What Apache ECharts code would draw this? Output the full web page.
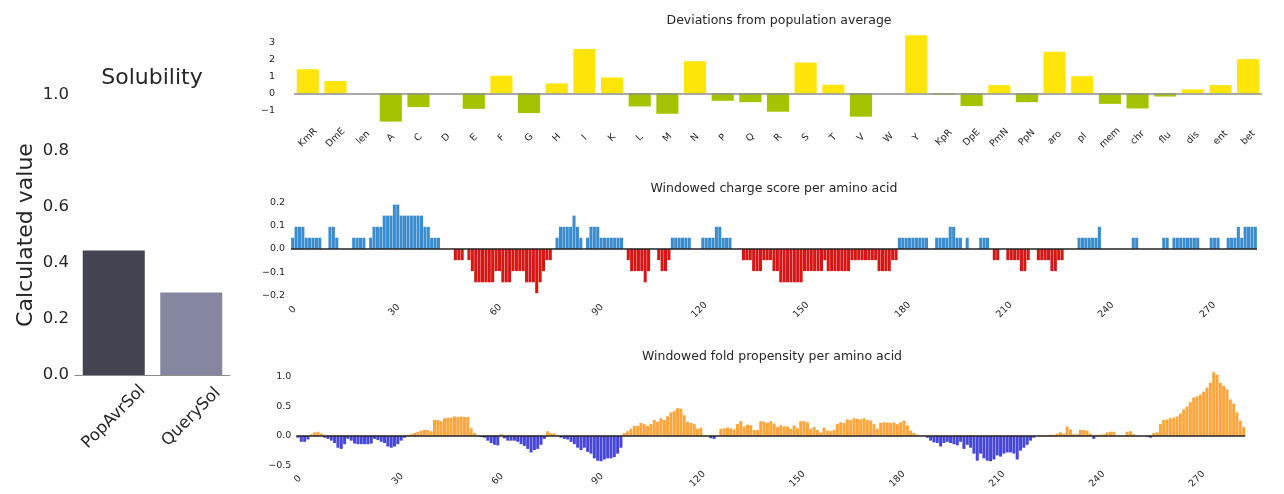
<!DOCTYPE html>
<html>
<head>
<meta charset="utf-8">
<script src="https://cdn.jsdelivr.net/npm/echarts@6/dist/echarts.min.js"></script>
<style>
  html, body { margin: 0; padding: 0; background: #fff; }
  #root { width: 1284px; height: 494px; }
</style>
</head>
<body>
<div id="root"></div>
<script>
// solubility panel
const solCategories = ['PopAvrSol', 'QuerySol'];
const solValues = [0.445, 0.295];
const solColors = ['#434352', '#8587a0'];

// deviations from population average
const propCategories = ['KmR', 'DmE', 'len', 'A', 'C', 'D', 'E', 'F', 'G', 'H', 'I', 'K', 'L', 'M', 'N', 'P', 'Q',
  'R', 'S', 'T', 'V', 'W', 'Y', 'KpR', 'DpE', 'PmN', 'PpN', 'aro', 'pI', 'mem', 'chr', 'flu', 'dis', 'ent', 'bet'];
const deviations = [1.41, 0.72, 0, -1.66, -0.81, 0, -0.91, 1.03, -1.16, 0.58,
  2.6, 0.93, -0.77, -1.2, 1.88, -0.44, -0.52, -1.08, 1.8, 0.5,
  -1.37, 0, 3.4, -0.08, -0.75, 0.48, -0.52, 2.44, 1.0, -0.62,
  -0.89, -0.19, 0.23, 0.48, 2.0];

// windowed charge score, one value per residue
const charge = [
  0.048, 0.095, 0.095, 0.095, 0.048, 0.048, 0.048, 0.048, 0.048, 0,
  0, 0.095, 0.095, 0.048, 0, 0, 0, 0, 0.048, 0.048,
  0.048, 0.048, 0, 0.048, 0.095, 0.095, 0.095, 0.143, 0.143, 0.143,
  0.19, 0.19, 0.143, 0.143, 0.143, 0.143, 0.143, 0.143, 0.143, 0.095,
  0.095, 0.048, 0.048, 0.048, 0, 0, 0, 0, -0.048, -0.048,
  -0.048, 0, -0.048, -0.095, -0.143, -0.143, -0.143, -0.143, -0.143, -0.143,
  -0.095, -0.095, -0.143, -0.143, -0.143, -0.095, -0.095, -0.095, -0.095, -0.143,
  -0.143, -0.143, -0.19, -0.143, -0.095, -0.048, -0.048, 0, 0.048, 0.095,
  0.095, 0.095, 0.095, 0.143, 0.095, 0.048, 0, 0.048, 0.095, 0.095,
  0.095, 0.048, 0.048, 0.048, 0.048, 0.048, 0.048, 0.048, 0, -0.048,
  -0.095, -0.095, -0.095, -0.095, -0.143, -0.095, 0, 0, -0.048, -0.095,
  -0.095, -0.048, 0.048, 0.048, 0.048, 0.048, 0.048, 0.048, 0, 0,
  0, 0.048, 0.048, 0.048, 0.048, 0.095, 0.095, 0.048, 0.048, 0.048,
  0, 0, 0, -0.048, -0.048, -0.048, -0.095, -0.095, -0.095, -0.048,
  -0.048, -0.048, -0.095, -0.095, -0.143, -0.143, -0.143, -0.143, -0.143, -0.143,
  -0.143, -0.095, -0.095, -0.095, -0.095, -0.095, -0.095, -0.048, -0.095, -0.095,
  -0.095, -0.095, -0.095, -0.095, -0.095, -0.048, -0.048, -0.048, -0.048, -0.048,
  -0.048, -0.048, -0.048, -0.095, -0.095, -0.095, -0.095, -0.048, -0.048, 0.048,
  0.048, 0.048, 0.048, 0.048, 0.048, 0.048, 0.048, 0.048, 0, 0,
  0.048, 0.048, 0.048, 0.048, 0.095, 0.095, 0.048, 0.048, 0, 0.048,
  0, 0, 0, 0.048, 0.048, 0.048, 0, -0.048, -0.048, 0,
  0, -0.048, -0.048, -0.048, -0.048, -0.095, -0.095, -0.048, 0, 0,
  -0.048, -0.048, -0.048, -0.048, -0.095, -0.095, -0.048, -0.048, 0, 0,
  0, 0, 0.048, 0.048, 0.048, 0.048, 0.048, 0.048, 0.095, 0,
  0, 0, 0, 0, 0, 0, 0, 0, 0.048, 0.048,
  0, 0, 0, 0, 0, 0, 0, 0.048, 0.048, 0,
  0.048, 0.048, 0.048, 0.048, 0.048, 0.048, 0.048, 0.048, 0, 0,
  0, 0.048, 0.048, 0.048, 0, 0, 0.048, 0.048, 0.048, 0.095,
  0.048, 0.095, 0.095, 0.095, 0.095
];

// windowed fold propensity, one value per residue
const fold = [
  -0.03, -0.1, -0.1, -0.06, 0.03, 0.06, 0.07, 0.04, -0.03, -0.05,
  -0.08, -0.12, -0.2, -0.22, -0.14, -0.05, -0.08, -0.13, -0.14, -0.14,
  -0.14, -0.14, -0.13, -0.05, -0.07, -0.1, -0.12, -0.18, -0.2, -0.18,
  -0.14, -0.08, -0.03, 0.02, 0.03, 0.05, 0.07, 0.09, 0.1, 0.1,
  0.08, 0.27, 0.27, 0.25, 0.3, 0.31, 0.31, 0.33, 0.32, 0.33,
  0.32, 0.32, 0.13, 0.05, 0.01, -0.02, -0.03, -0.08, -0.12, -0.15,
  -0.16, 0.03, -0.04, -0.08, -0.08, -0.08, -0.1, -0.14, -0.17, -0.22,
  -0.28, -0.24, -0.22, -0.15, -0.05, 0.08, 0.05, 0.04, 0.01, -0.03,
  -0.05, -0.06, -0.1, -0.14, -0.2, -0.24, -0.2, -0.27, -0.3, -0.38,
  -0.42, -0.43, -0.4, -0.38, -0.38, -0.36, -0.3, -0.2, 0.05, 0.08,
  0.12, 0.17, 0.17, 0.22, 0.2, 0.17, 0.2, 0.27, 0.24, 0.3,
  0.27, 0.33, 0.4, 0.42, 0.47, 0.46, 0.35, 0.24, 0.22, 0.2,
  0.12, 0.14, 0.01, 0, -0.04, -0.05, 0, 0.12, 0.13, 0.14,
  0.13, 0.11, 0.2, 0.25, 0.16, 0.19, 0.18, 0.1, 0.1, 0.25,
  0.24, 0.22, 0.25, 0.21, 0.15, 0.18, 0.16, 0.16, 0.12, 0.18,
  0.13, 0.25, 0.25, 0.23, 0.12, 0.15, 0.1, 0.06, 0.14, 0.09,
  0.08, 0.1, 0.2, 0.23, 0.22, 0.28, 0.27, 0.3, 0.29, 0.28,
  0.3, 0.27, 0.26, 0.2, 0.12, 0.22, 0.23, 0.23, 0.22, 0.23,
  0.2, 0.23, 0.26, 0.18, 0.09, 0.05, 0.02, 0.01, 0, -0.03,
  -0.08, -0.11, -0.12, -0.18, -0.12, -0.1, -0.12, -0.14, -0.16, -0.1,
  -0.22, -0.15, -0.2, -0.3, -0.42, -0.3, -0.38, -0.42, -0.43, -0.4,
  -0.33, -0.35, -0.3, -0.28, -0.28, -0.3, -0.4, -0.25, -0.2, -0.15,
  -0.08, -0.03, 0, 0.01, 0.01, 0.01, 0.02, 0.02, 0.04, 0.06,
  0.04, 0.16, 0.11, 0.03, 0.03, 0.1, 0.1, 0.09, 0.04, -0.05,
  0.02, 0.02, 0.03, 0.06, 0.07, 0.07, 0.01, 0.01, 0, 0.07,
  0.08, 0.03, 0.01, 0, 0, -0.01, -0.03, 0.05, 0.06, 0.2,
  0.27, 0.28, 0.3, 0.31, 0.33, 0.38, 0.45, 0.5, 0.57, 0.65,
  0.67, 0.7, 0.75, 0.82, 0.9, 1.08, 1.04, 0.9, 0.85, 0.79,
  0.62, 0.55, 0.4, 0.26, 0.15
];

const residues = charge.map((v, i) => String(i));
const chargeTicks = [-0.2, -0.1, 0, 0.1, 0.2];
const foldTicks = [-0.5, 0, 0.5, 1.0];
const devTicks = [-1, 0, 1, 2, 3];

const FONT = 'DejaVu Sans';
const TXT = '#262626';

const fmt = d => v => (v < 0 ? '\u2212' : '') + Math.abs(v).toFixed(d);

const zeroLine = (color, width) => ({
  silent: true,
  symbol: 'none',
  label: { show: false },
  lineStyle: { color, width, type: 'solid' },
  data: [{ yAxis: 0 }]
});

const smallTitle = (text, x, y) => ({
  text, left: x, top: y, textAlign: 'center', padding: 0,
  textStyle: { fontFamily: FONT, fontSize: 12.5, fontWeight: 'normal', color: TXT }
});

const resAxis = (gridIndex, margin) => ({
  type: 'category', gridIndex, data: residues,
  axisLine: { show: false }, axisTick: { show: false },
  axisLabel: {
    interval: 29, rotate: 45, align: 'center', verticalAlign: 'middle', margin,
    fontFamily: FONT, fontSize: 9.5, color: TXT
  }
});

const valAxis = (gridIndex, min, max, ticks, digits, margin) => ({
  type: 'value', gridIndex, min, max,
  axisLine: { show: false }, axisTick: { show: false }, splitLine: { show: false },
  axisLabel: {
    customValues: ticks, formatter: fmt(digits), margin,
    fontFamily: FONT, fontSize: 9.5, color: TXT
  }
});

const chart = echarts.init(document.getElementById('root'), null, { renderer: 'canvas' });

chart.setOption({
  animation: false,
  backgroundColor: '#fff',
  title: [
    {
      text: 'Solubility', left: 152, top: 67, textAlign: 'center', padding: 0,
      textStyle: { fontFamily: FONT, fontSize: 22, fontWeight: 'normal', color: TXT }
    },
    smallTitle('Deviations from population average', 779, 14),
    smallTitle('Windowed charge score per amino acid', 774, 182),
    smallTitle('Windowed fold propensity per amino acid', 772, 350)
  ],
  grid: [
    { left: 75, top: 95, width: 155, height: 280 },
    { left: 294, top: 31, width: 968, height: 94.7 },
    { left: 291, top: 200, width: 966, height: 97.9 },
    { left: 296.3, top: 367.2, width: 949, height: 98.8 }
  ],
  xAxis: [
    {
      type: 'category', gridIndex: 0, data: solCategories,
      axisLine: { lineStyle: { color: '#8c8c8c', width: 1 } },
      axisTick: { show: false },
      axisLabel: {
        rotate: 45, align: 'center', verticalAlign: 'middle', margin: 42,
        fontFamily: FONT, fontSize: 16.5, color: TXT
      }
    },
    {
      type: 'category', gridIndex: 1, data: propCategories,
      axisLine: { show: false }, axisTick: { show: false },
      axisLabel: {
        interval: 0, rotate: 45, align: 'center', verticalAlign: 'middle', margin: 12,
        fontFamily: FONT, fontSize: 9.5, color: TXT
      }
    },
    resAxis(2, 12),
    resAxis(3, 13)
  ],
  yAxis: [
    {
      type: 'value', gridIndex: 0, min: 0, max: 1, interval: 0.2,
      name: 'Calculated value', nameLocation: 'middle', nameRotate: 90, nameGap: 38,
      nameTextStyle: { fontFamily: FONT, fontSize: 22, color: TXT },
      axisLine: { show: false }, axisTick: { show: false }, splitLine: { show: false },
      axisLabel: { formatter: fmt(1), margin: 6, fontFamily: FONT, fontSize: 16.5, color: TXT }
    },
    valAxis(1, -1.9, 3.65, devTicks, 0, 19),
    valAxis(2, -0.21, 0.21, chargeTicks, 1, 6),
    valAxis(3, -0.51, 1.165, foldTicks, 1, 5)
  ],
  series: [
    {
      type: 'bar', xAxisIndex: 0, yAxisIndex: 0, barCategoryGap: '20%',
      data: solValues.map((v, i) => ({ value: v, itemStyle: { color: solColors[i] } }))
    },
    {
      type: 'bar', xAxisIndex: 1, yAxisIndex: 1, barCategoryGap: '20%',
      data: deviations,
      itemStyle: { color: p => (p.value >= 0 ? '#ffe50a' : '#a6c300') },
      markLine: zeroLine('#8c8c8c', 1.5)
    },
    {
      type: 'bar', xAxisIndex: 2, yAxisIndex: 2, barCategoryGap: '10%',
      data: charge,
      itemStyle: { color: p => (p.value >= 0 ? '#3a8ccf' : '#d61515') },
      markLine: zeroLine('#222', 1.5)
    },
    {
      type: 'bar', xAxisIndex: 3, yAxisIndex: 3, barCategoryGap: '10%',
      data: fold,
      itemStyle: { color: p => (p.value >= 0 ? '#ffa53c' : '#4646d8') },
      markLine: zeroLine('#222', 1.5)
    }
  ]
});
</script>
</body>
</html>
